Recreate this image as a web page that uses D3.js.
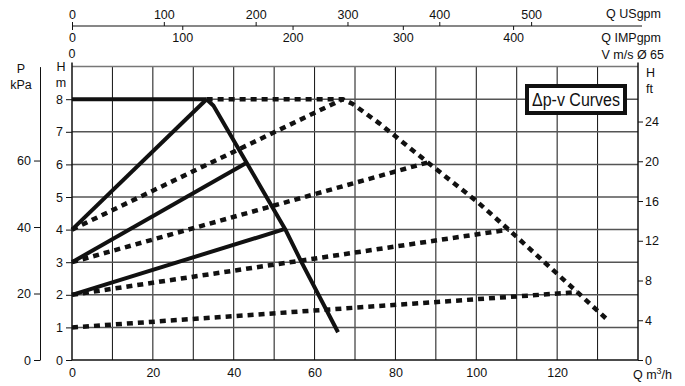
<!DOCTYPE html>
<html>
<head>
<meta charset="utf-8">
<script src="https://cdn.jsdelivr.net/npm/d3@7"></script>
<style>
  body { margin: 0; background: #fff; }
  svg text { font-family: "Liberation Sans", Arial, sans-serif; font-size: 12.5px; fill: #111; }
  .axis path, .axis line { stroke: #111; }
</style>
</head>
<body>
<div id="chart"></div>
<script>
// Q in m3/h, H in m
const qTicks = [0, 20, 40, 60, 80, 100, 120];
const hTicks = [0, 1, 2, 3, 4, 5, 6, 7, 8];
const ftTicks = [0, 4, 8, 12, 16, 20, 24];
const kpaTicks = [0, 20, 40, 60];
const usTicks = [0, 100, 200, 300, 400, 500];
const impTicks = [0, 100, 200, 300, 400];

// solid curves (single pump)
const solidTop = [[0, 8], [33.3, 8]];
const solidMax = [[33.3, 8], [35, 7.8], [43.2, 6.05], [52.7, 4.02], [56.7, 3.02], [65.8, 0.85]];
const solidRise = [
    [[0, 4], [33.3, 8]],
    [[0, 3], [43.2, 6.05]],
    [[0, 2], [52.7, 4.02]]
];

// dotted curves
const dotMax = [[33.3, 8], [67, 8], [69.5, 7.85], [76, 7.26], [88, 6.06], [100, 4.88], [108, 4.0], [125, 2.08], [132.2, 1.26]];
const dotRise = [
    [[0, 4], [67, 8]],
    [[0, 3], [88, 6.06]],
    [[0, 2], [108, 4.0]],
    [[0, 1], [125, 2.08]]
];

const width = 685, height = 386;
const pLeft = 72, pRight = 638, pTop = 66.6, pBottom = 360;

const svg = d3.select("#chart").append("svg")
    .attr("width", width)
    .attr("height", height);

const x = d3.scaleLinear().domain([0, 140]).range([pLeft, pRight]);
const y = d3.scaleLinear().domain([0, 9]).range([pBottom, pTop]);

// grid
svg.append("g").selectAll("line")
    .data(d3.range(10, 140, 10))
    .join("line")
    .attr("x1", d => x(d)).attr("x2", d => x(d))
    .attr("y1", pTop).attr("y2", pBottom)
    .attr("stroke", "#111").attr("stroke-width", 1);

svg.append("g").selectAll("line")
    .data(hTicks.slice(1))
    .join("line")
    .attr("x1", pLeft).attr("x2", pRight)
    .attr("y1", d => y(d)).attr("y2", d => y(d))
    .attr("stroke", "#555").attr("stroke-width", 1.5);

// frame
svg.append("line").attr("x1", pLeft).attr("x2", pRight).attr("y1", pTop).attr("y2", pTop)
    .attr("stroke", "#777").attr("stroke-width", 1.5);
svg.append("line").attr("x1", pLeft).attr("x2", pRight).attr("y1", pBottom).attr("y2", pBottom)
    .attr("stroke", "#111").attr("stroke-width", 1.5);
svg.append("line").attr("x1", pLeft).attr("x2", pLeft).attr("y1", pTop - 4).attr("y2", pBottom)
    .attr("stroke", "#111").attr("stroke-width", 1.5);
svg.append("line").attr("x1", pRight).attr("x2", pRight).attr("y1", pTop - 4).attr("y2", pBottom)
    .attr("stroke", "#111").attr("stroke-width", 1.5);

// bottom axis Q m3/h
const xAxis = svg.append("g").attr("class", "axis")
    .attr("transform", `translate(0,${pBottom})`)
    .call(d3.axisBottom(x).tickValues(qTicks).tickSize(0).tickPadding(8));
xAxis.select(".domain").remove();

svg.append("text").attr("x", 672).attr("y", 379).attr("text-anchor", "end")
    .html('Q m<tspan dy="-5" font-size="9px">3</tspan><tspan dy="5">/h</tspan>');

// left H m axis
const hAxis = svg.append("g").attr("class", "axis")
    .attr("transform", `translate(${pLeft},0)`)
    .call(d3.axisLeft(y).tickValues(hTicks).tickSize(6).tickPadding(3));
hAxis.select(".domain").remove();
svg.append("text").attr("x", 61).attr("y", 71).attr("text-anchor", "middle").text("H");
svg.append("text").attr("x", 61).attr("y", 87).attr("text-anchor", "middle").text("m");

// P kPa axis
const yP = d3.scaleLinear().domain([0, 9 * 9.80665]).range([pBottom, pTop]);
const pAxis = svg.append("g").attr("class", "axis")
    .attr("transform", "translate(40,0)")
    .call(d3.axisLeft(yP).tickValues(kpaTicks).tickSize(6).tickSizeOuter(0).tickPadding(3));
svg.append("text").attr("x", 21).attr("y", 73).attr("text-anchor", "middle").text("P");
svg.append("text").attr("x", 21).attr("y", 89).attr("text-anchor", "middle").text("kPa");

// right H ft axis
const yFt = d3.scaleLinear().domain([0, 9 * 3.28084]).range([pBottom, pTop]);
const ftAxis = svg.append("g").attr("class", "axis")
    .attr("transform", `translate(${pRight},0)`)
    .call(d3.axisRight(yFt).tickValues(ftTicks).tickSize(5).tickPadding(2));
ftAxis.select(".domain").remove();
svg.append("text").attr("x", 646).attr("y", 77).text("H");
svg.append("text").attr("x", 646).attr("y", 93).text("ft");

// top axes
const xUS = d3.scaleLinear().domain([0, 140 * 4.40287]).range([pLeft, pRight]);
const xIMP = d3.scaleLinear().domain([0, 140 * 3.66615]).range([pLeft, pRight]);
const topY = 26;

svg.append("line").attr("x1", pLeft).attr("x2", 642).attr("y1", topY).attr("y2", topY)
    .attr("stroke", "#111").attr("stroke-width", 1.2);

const usAxis = svg.append("g").attr("class", "axis")
    .attr("transform", `translate(0,${topY})`)
    .call(d3.axisTop(xUS).tickValues(usTicks).tickSize(4).tickPadding(3));
usAxis.select(".domain").remove();

const impAxis = svg.append("g").attr("class", "axis")
    .attr("transform", `translate(0,${topY})`)
    .call(d3.axisBottom(xIMP).tickValues(impTicks).tickSize(4).tickPadding(3));
impAxis.select(".domain").remove();

svg.append("text").attr("x", pLeft).attr("y", 58).attr("text-anchor", "middle").text("0");

svg.append("text").attr("x", 661).attr("y", 18).attr("text-anchor", "end").text("Q USgpm");
svg.append("text").attr("x", 661).attr("y", 42).attr("text-anchor", "end").text("Q IMPgpm");
svg.append("text").attr("x", 664).attr("y", 59).attr("text-anchor", "end").text("V m/s \u00D8 65");

// curves
const line = d3.line().x(d => x(d[0])).y(d => y(d[1]));
const curves = svg.append("g");

[dotMax, ...dotRise].forEach(pts => {
    curves.append("path")
        .attr("d", line(pts))
        .attr("fill", "none")
        .attr("stroke", "#111")
        .attr("stroke-width", 4.5)
        .attr("stroke-dasharray", "6,5");
});

[solidTop, solidMax, ...solidRise].forEach(pts => {
    curves.append("path")
        .attr("d", line(pts))
        .attr("fill", "none")
        .attr("stroke", "#111")
        .attr("stroke-width", 4)
        .attr("stroke-linejoin", "round");
});

// legend box
svg.append("rect")
    .attr("x", 527).attr("y", 86).attr("width", 98).attr("height", 27)
    .attr("fill", "#fff").attr("stroke", "#111").attr("stroke-width", 4);
svg.append("text")
    .attr("x", 532).attr("y", 106)
    .attr("textLength", 88)
    .attr("lengthAdjust", "spacingAndGlyphs")
    .style("font-size", "18px")
    .text("\u0394p-v Curves");
</script>
</body>
</html>
